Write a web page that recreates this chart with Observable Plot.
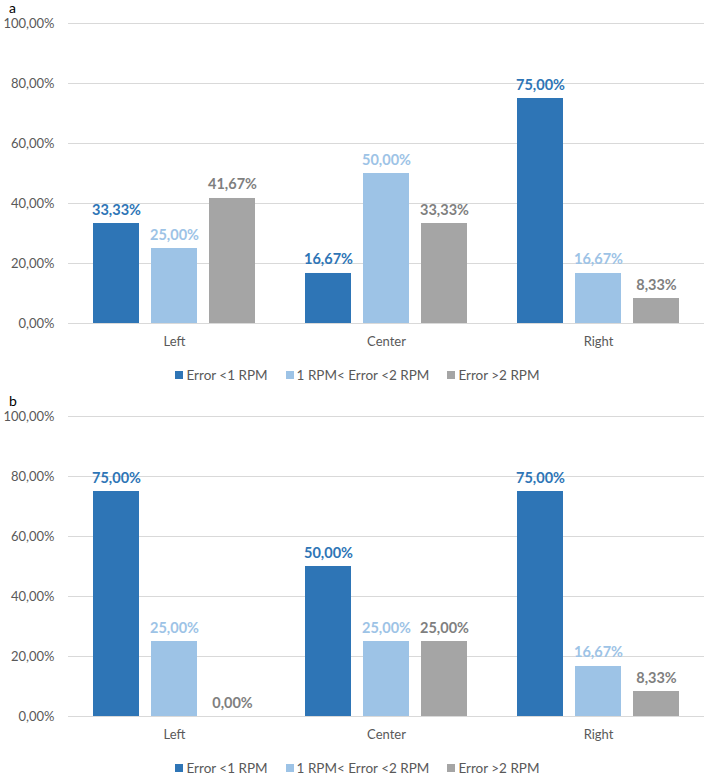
<!DOCTYPE html>
<html>
<head>
<meta charset="utf-8">
<script src="https://cdn.jsdelivr.net/npm/d3@7"></script>
<script src="https://cdn.jsdelivr.net/npm/@observablehq/plot@0.6"></script>
<style>
  body { margin: 0; background: #fff; font-family: Lato, "Open Sans", sans-serif; }
  .panel { position: relative; width: 709px; height: 393px; }
  .tag { position: absolute; left: 9px; top: 0px; font-size: 14px; line-height: 16px; height: 16px; color: #000; }
  .chart { position: absolute; left: 0; top: 16px; }
  .legend { position: absolute; left: 0; width: 709px; top: 367px; height: 16px; display: flex; justify-content: center; align-items: center; font-size: 13.5px; color: #595959; padding-left: 6px; box-sizing: border-box; }
  .item { display: flex; align-items: center; margin: 0 9px; }
  .sw { width: 8px; height: 8px; margin-right: 3px; }
</style>
</head>
<body>
<div id="root"></div>
<script>
const categories = ["Left", "Center", "Right"];
const series = ["Error <1 RPM", "1 RPM< Error <2 RPM", "Error >2 RPM"];
const yTicks = [0, 20, 40, 60, 80, 100];

// Panel a values (%)
const aErrLt1 = [33.33, 16.67, 75.00];
const aErr1to2 = [25.00, 50.00, 16.67];
const aErrGt2 = [41.67, 33.33, 8.33];

// Panel b values (%)
const bErrLt1 = [75.00, 50.00, 75.00];
const bErr1to2 = [25.00, 25.00, 16.67];
const bErrGt2 = [0.00, 25.00, 8.33];

const barColors = ["#2E75B6", "#9DC3E6", "#A5A5A5"];
const labelColors = ["#2E75B6", "#9DC3E6", "#7F7F7F"];

const fmt = v => v.toFixed(2).replace(".", ",") + "%";

function makePanel(tag, s1, s2, s3) {
  const cols = [s1, s2, s3];
  const data = [];
  categories.forEach((c, i) => {
    series.forEach((s, j) => data.push({cat: c, series: s, value: cols[j][i]}));
  });
  const panel = document.createElement("div");
  panel.className = "panel";
  const t = document.createElement("div");
  t.className = "tag";
  t.textContent = tag;
  panel.appendChild(t);

  const chart = Plot.plot({
    width: 709,
    height: 337,
    marginTop: 7,
    marginBottom: 30,
    marginLeft: 67,
    marginRight: 4,
    style: {fontFamily: "Lato, 'Open Sans', sans-serif", fontSize: "13px", color: "#595959", background: "#fff"},
    fx: {domain: categories, padding: 0, label: null, tickSize: 0, tickPadding: 13, axis: "bottom"},
    x: {domain: series, paddingInner: 0.2, paddingOuter: 0.4, axis: null},
    y: {domain: [0, 100], ticks: yTicks, tickFormat: fmt, tickSize: 0, tickPadding: 14, label: null},
    color: {domain: series, range: barColors},
    marks: [
      Plot.ruleY(yTicks, {stroke: "#D9D9D9", strokeWidth: 1}),
      Plot.barY(data, {fx: "cat", x: "series", y: "value", fill: "series"}),
      ...series.map((s, j) => Plot.text(data.filter(d => d.series === s), {
        fx: "cat", x: "series", y: "value", text: d => fmt(d.value),
        fill: labelColors[j], fontWeight: "bold", fontSize: 14.5, lineAnchor: "bottom", dy: -9
      }))
    ]
  });
  chart.classList.add("chart");
  panel.appendChild(chart);

  const lg = document.createElement("div");
  lg.className = "legend";
  series.forEach((s, j) => {
    const it = document.createElement("div");
    it.className = "item";
    const sw = document.createElement("div");
    sw.className = "sw";
    sw.style.background = barColors[j];
    const tx = document.createElement("span");
    tx.textContent = s;
    it.appendChild(sw);
    it.appendChild(tx);
    lg.appendChild(it);
  });
  panel.appendChild(lg);
  document.getElementById("root").appendChild(panel);
}

makePanel("a", aErrLt1, aErr1to2, aErrGt2);
makePanel("b", bErrLt1, bErr1to2, bErrGt2);
</script>
</body>
</html>
